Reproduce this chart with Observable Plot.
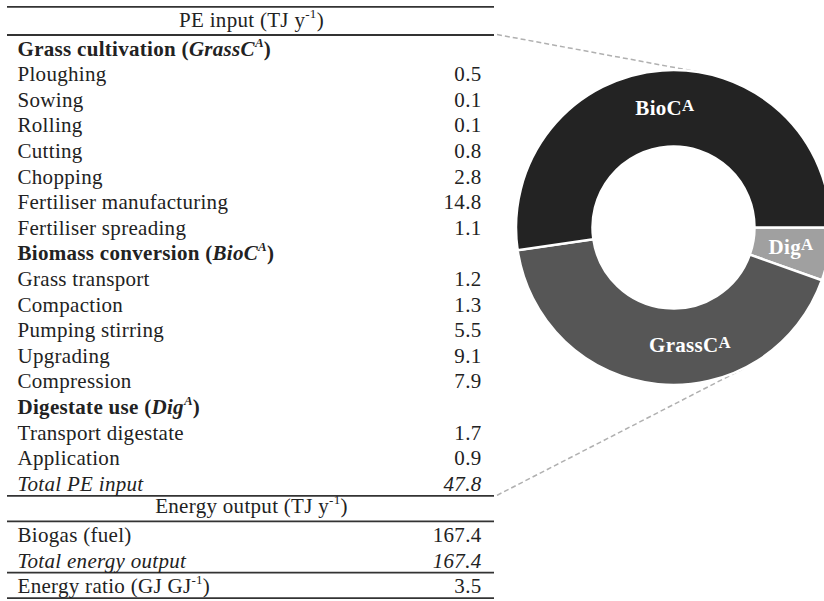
<!DOCTYPE html>
<html>
<head>
<meta charset="utf-8">
<script src="https://cdn.jsdelivr.net/npm/d3@7"></script>
<script src="https://cdn.jsdelivr.net/npm/@observablehq/plot@0.6"></script>
<style>
  html, body { margin: 0; padding: 0; background: #fff; }
  #chart svg text { letter-spacing: 0.3px; font-family: "Liberation Serif", "Times New Roman", Times, "DejaVu Serif", serif; }
</style>
</head>
<body>
<div id="chart"></div>
<script>
// Table rows. Labels use *italic* and ^superscript^ markup.
const rowLabels = [
  "PE input (TJ y^-1^)",
  "Grass cultivation (*GrassC^A^*)",
  "Ploughing", "Sowing", "Rolling", "Cutting", "Chopping",
  "Fertiliser manufacturing", "Fertiliser spreading",
  "Biomass conversion (*BioC^A^*)",
  "Grass transport", "Compaction", "Pumping stirring", "Upgrading", "Compression",
  "Digestate use (*Dig^A^*)",
  "Transport digestate", "Application",
  "Total PE input",
  "Energy output (TJ y^-1^)",
  "Biogas (fuel)",
  "Total energy output",
  "Energy ratio (GJ GJ^-1^)"
];
const rowKinds = [
  "header",
  "group", "item", "item", "item", "item", "item", "item", "item",
  "group", "item", "item", "item", "item", "item",
  "group", "item", "item",
  "total",
  "header", "item", "total", "item"
];
const rowValues = [
  null,
  null, 0.5, 0.1, 0.1, 0.8, 2.8, 14.8, 1.1,
  null, 1.2, 1.3, 5.5, 9.1, 7.9,
  null, 1.7, 0.9,
  47.8,
  null, 167.4, 167.4, 3.5
];
const rowStages = [
  null,
  "GrassC", "GrassC", "GrassC", "GrassC", "GrassC", "GrassC", "GrassC", "GrassC",
  "BioC", "BioC", "BioC", "BioC", "BioC", "BioC",
  "Dig", "Dig", "Dig",
  null, null, null, null, null
];
// rows that have a horizontal rule drawn beneath them
const rulesBelow = [0, 18, 19, 21, 22];

// Donut segments (clockwise from 3 o'clock)
const stages = ["Dig", "GrassC", "BioC"];
const stageLabels = ["Dig^A^", "GrassC^A^", "BioC^A^"];

const rows = rowLabels.map((label, i) => ({
  row: i, label, kind: rowKinds[i], value: rowValues[i], stage: rowStages[i]
}));
const stageTotals = stages.map((stage, k) => ({
  stage,
  label: stageLabels[k],
  value: d3.sum(rows.filter(r => r.kind === "item" && r.stage === stage), r => r.value)
}));

// Layout and style
const W = 824, H = 601;
const FONT = "'Liberation Serif', 'Times New Roman', Times, 'DejaVu Serif', serif";
const INK = "#222";
const col = {left: 17, right: 481, center: 251, ruleFrom: 7, ruleTo: 494};
const ring = {cx: 673.5, cy: 227.5, outer: 157.5, inner: 81};
const stageFill = {BioC: "#232323", GrassC: "#565656", Dig: "#a0a0a0"};
const labelTurn = {BioC: 0, GrassC: -13.6 * Math.PI / 180, Dig: 0};
const fmt = d3.format(".1f");
const SVGNS = "http://www.w3.org/2000/svg";

// Turn *italic* and ^superscript^ markup into tspans.
function applyRich(el, fs, supScale, supRise) {
  const src = el.textContent;
  if (!/[*^]/.test(src)) return;
  while (el.firstChild) el.removeChild(el.firstChild);
  let italic = false, sup = false, raised = false, buf = "";
  const flush = () => {
    if (!buf) return;
    const t = document.createElementNS(SVGNS, "tspan");
    t.textContent = buf;
    if (italic) t.setAttribute("font-style", "italic");
    if (sup) {
      t.setAttribute("font-size", fs * supScale);
      if (!raised) { t.setAttribute("dy", -fs * supRise); raised = true; }
    } else if (raised) {
      t.setAttribute("dy", fs * supRise);
      raised = false;
    }
    el.appendChild(t);
    buf = "";
  };
  for (const ch of src) {
    if (ch === "*") { flush(); italic = !italic; }
    else if (ch === "^") { flush(); sup = !sup; }
    else buf += ch;
  }
  flush();
}

// Doughnut of PE input by stage, with dashed tangents back to the table.
function donut(index, scales) {
  const sx = scales.x ?? (v => v);
  const sy = scales.y;
  const g = d3.create("svg:g");

  const tangent = (px, py, side) => {
    const dx = px - ring.cx, dy = py - ring.cy;
    const d = Math.hypot(dx, dy);
    const t = Math.atan2(dy, dx) + side * Math.acos(ring.outer / d);
    return [ring.cx + ring.outer * Math.cos(t), ring.cy + ring.outer * Math.sin(t)];
  };
  const starts = [[sx(col.ruleTo) + 3, sy(rulesBelow[0] + 0.2), 1],
                  [sx(col.ruleTo) + 3, sy(rulesBelow[1] + 0.2), -1]];
  for (const [px, py, side] of starts) {
    const [tx, ty] = tangent(px, py, side);
    g.append("line")
      .attr("x1", px).attr("y1", py).attr("x2", tx).attr("y2", ty)
      .attr("stroke", "#b0b0b0").attr("stroke-width", 1.5)
      .attr("stroke-dasharray", "5,3");
  }

  const pie = d3.pie().sort(null).value(d => d.value)
    .startAngle(Math.PI / 2).endAngle(Math.PI / 2 + 2 * Math.PI);
  const arcs = pie(stageTotals);
  const arc = d3.arc().innerRadius(ring.inner).outerRadius(ring.outer);
  const ringG = g.append("g").attr("transform", `translate(${ring.cx},${ring.cy})`);
  ringG.selectAll("path").data(arcs).join("path")
    .attr("d", arc)
    .attr("fill", d => stageFill[d.data.stage])
    .attr("stroke", "#fff")
    .attr("stroke-width", 2.5);

  const rMid = (ring.inner + ring.outer) / 2;
  ringG.selectAll("text").data(arcs).join("text")
    .attr("x", d => rMid * Math.sin((d.startAngle + d.endAngle) / 2 + labelTurn[d.data.stage]))
    .attr("y", d => -rMid * Math.cos((d.startAngle + d.endAngle) / 2 + labelTurn[d.data.stage]))
    .attr("dy", "0.32em")
    .attr("text-anchor", "middle")
    .attr("font-family", FONT)
    .attr("font-weight", "bold")
    .attr("font-size", 21)
    .attr("fill", "#fff")
    .text(d => d.data.label)
    .each(function () { applyRich(this, 21, 0.8, 0.22); });

  return g.node();
}

const base = {y: "row", fontFamily: FONT, fontSize: 21, fill: INK, lineAnchor: "bottom"};

const chart = Plot.plot({
  width: W,
  height: H,
  margin: 0,
  x: {type: "identity", axis: null},
  y: {type: "linear", domain: [0, 22], range: [29.4, 29.4 + 22 * 25.6], axis: null},
  style: {background: "#fff", fontFamily: FONT},
  marks: [
    Plot.ruleY([-0.9, ...rulesBelow.map(i => i + 0.2)], {
      x1: col.ruleFrom, x2: col.ruleTo, stroke: "#333", strokeWidth: 1.8
    }),
    Plot.text(rows.filter(r => r.kind === "header"), {
      ...base, x: col.center, text: "label", textAnchor: "middle", dy: -3
    }),
    Plot.text(rows.filter(r => r.kind === "group"), {
      ...base, x: col.left, text: "label", textAnchor: "start", fontWeight: "bold"
    }),
    Plot.text(rows.filter(r => r.kind === "item"), {
      ...base, x: col.left, text: "label", textAnchor: "start"
    }),
    Plot.text(rows.filter(r => r.kind === "total"), {
      ...base, x: col.left, text: "label", textAnchor: "start", fontStyle: "italic"
    }),
    Plot.text(rows.filter(r => r.kind === "item" && r.value != null), {
      ...base, x: col.right, text: r => fmt(r.value), textAnchor: "end"
    }),
    Plot.text(rows.filter(r => r.kind === "total" && r.value != null), {
      ...base, x: col.right, text: r => fmt(r.value), textAnchor: "end", fontStyle: "italic"
    }),
    donut
  ]
});

document.getElementById("chart").appendChild(chart);
chart.querySelectorAll("text").forEach(el => applyRich(el, 21, 0.62, 0.42));
</script>
</body>
</html>
